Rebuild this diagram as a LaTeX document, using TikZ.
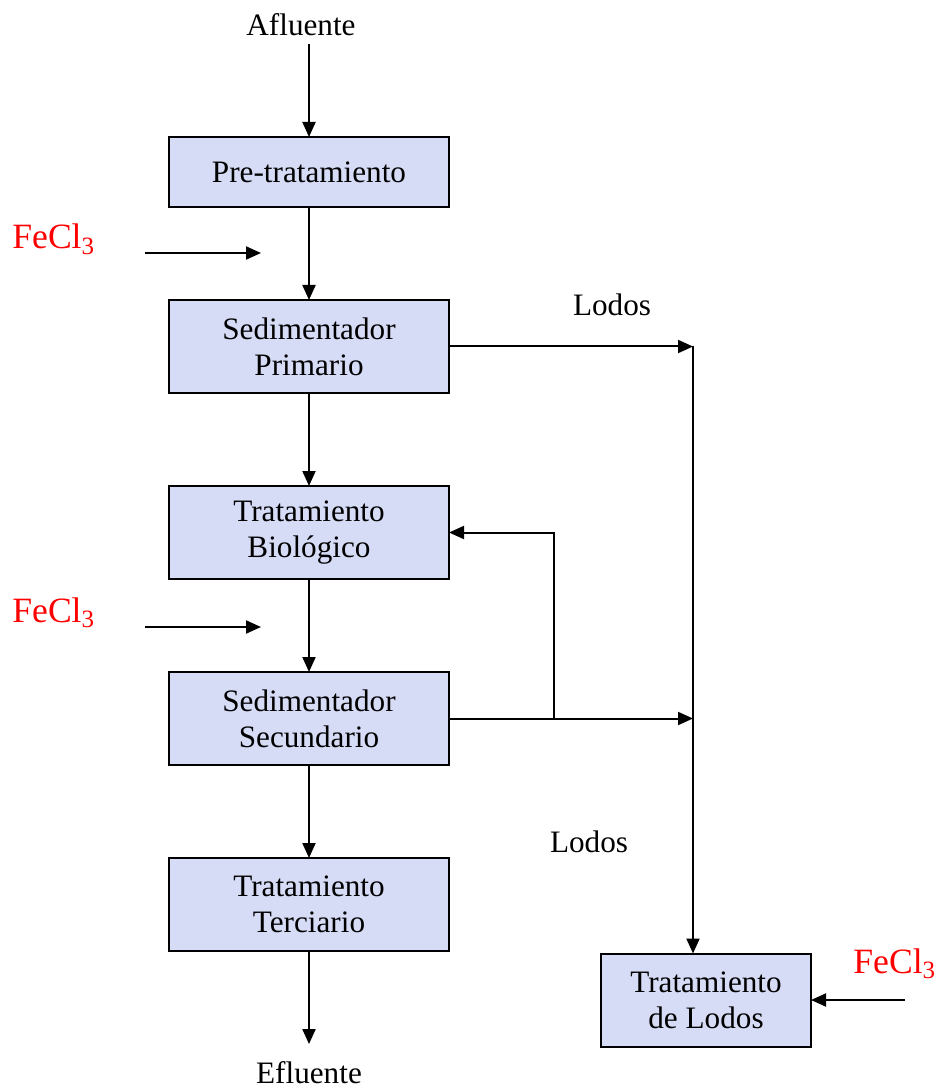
\documentclass[tikz,border=0pt]{standalone}
\usepackage{fontspec}
\setmainfont{Liberation Serif}
\definecolor{stageblue}{RGB}{214,219,246}
\definecolor{dosered}{RGB}{255,0,0}
\usetikzlibrary{positioning}
\usetikzlibrary{arrows.meta}

\begin{document}
\begin{tikzpicture}[x=0.5pt,y=-0.5pt,
  stage/.style={draw,line width=1pt,fill=stageblue,outer sep=0pt,minimum width=140pt,minimum height=46.5pt,align=center,font=\fontsize{15.6}{18}\selectfont},
  flowtext/.style={font=\fontsize{15.6}{18}\selectfont,inner sep=3.5pt},
  dose/.style={text=dosered,font=\fontsize{17.8}{21}\selectfont,inner sep=0pt},
  flow/.style={line width=1pt,-{Triangle[length=7.5pt,width=6.5pt]}},
  node distance=46.5pt]
  \useasboundingbox (0,0) rectangle (939,1090);

  % main treatment line
  \node [stage, minimum height=35pt] (pre) at (309,172) {Pre-tratamiento};
  \node [stage, below=of pre] (primario) {Sedimentador\\Primario};
  \node [stage, below=of primario] (biologico) {Tratamiento\\Biol\'ogico};
  \node [stage, below=of biologico] (secundario) {Sedimentador\\Secundario};
  \node [stage, below=of secundario] (terciario) {Tratamiento\\Terciario};
  \node [stage, minimum width=105pt] (lodos) at (706,1000) {Tratamiento\\de Lodos};

  \node [flowtext] (afluente) at (301,25) {Afluente};
  \node [flowtext, inner sep=0pt] (efluente) at (309,1073) {Efluente};
  \node [flowtext, inner sep=0pt] (lodostop) at (612,305) {Lodos};
  \node [flowtext, inner sep=0pt] (lodosbottom) at (589,842) {Lodos};

  % ferric chloride dosing
  \node [dose, anchor=base west] (dose1) at (12,249) {FeCl\textsubscript{3}};
  \node [dose, anchor=base west] (dose2) at (12,622) {FeCl\textsubscript{3}};
  \node [dose, anchor=base west] (dose3) at (853,973) {FeCl\textsubscript{3}};
  \coordinate (dose1a) at (145,253);
  \coordinate (dose1b) at (261,253);
  \coordinate (dose2a) at (145,627);
  \coordinate (dose2b) at (261,627);
  \coordinate (dose3a) at (905,1000);

  \coordinate (col) at (693,0);
  \coordinate (split) at (554,0);

  \draw (afluente.south -| pre.north) edge [flow] (pre.north)
    (pre) edge [flow] (primario) (primario) edge [flow] (biologico)
    (biologico) edge [flow] (secundario) (secundario) edge [flow] (terciario)
    (terciario.south) edge [flow] ([yshift=8.7pt]efluente.north);

  \draw [flow] (dose1a) -- (dose1b);
  \draw [flow] (dose2a) -- (dose2b);
  \draw [flow] (dose3a) -- (dose3a -| lodos.east);

  % sludge lines
  \draw [flow] (primario.east) -- (primario.east -| col);
  \draw [flow] (secundario.east) -- (secundario.east -| col);
  \draw [flow] (primario.east -| col) -- (lodos.north -| col);
  \draw [flow] (secundario.east -| split) |- (biologico.east);

\end{tikzpicture}
\end{document}
